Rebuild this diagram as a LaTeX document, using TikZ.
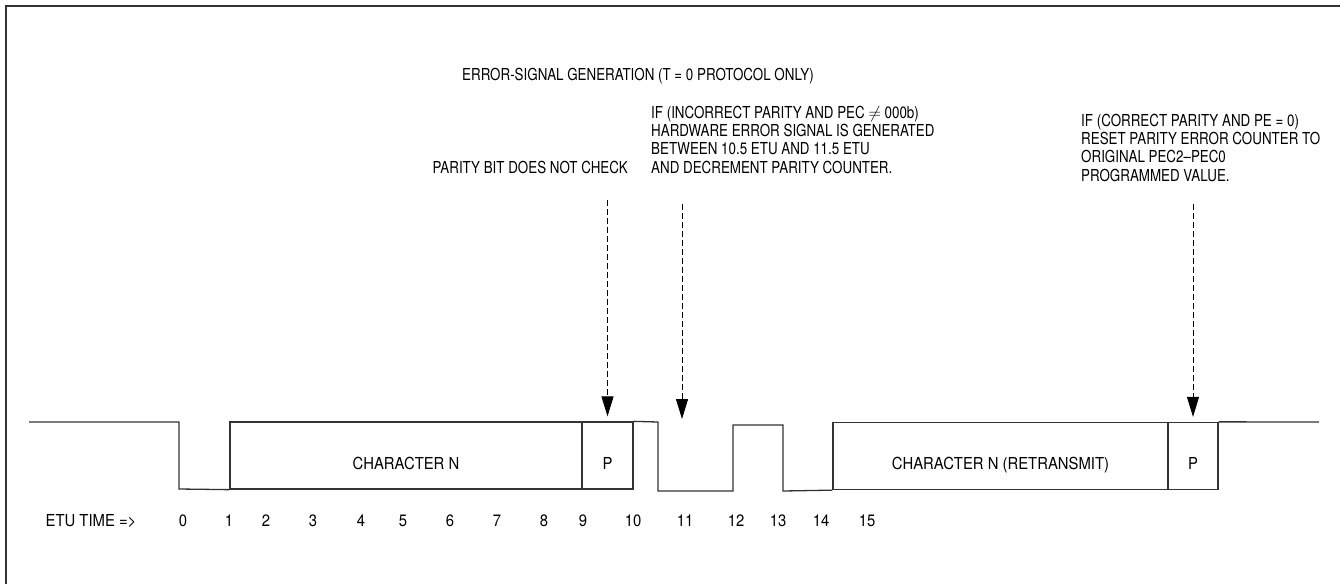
\documentclass[tikz,border=0pt]{standalone}
\usepackage{fontspec}
\setmainfont[FakeStretch=0.9]{TeX Gyre Heros}
\newfontfamily\notefam[FakeStretch=0.81]{TeX Gyre Heros}
\usetikzlibrary{arrows.meta}
\newcommand\lbfont{\fontsize{16.5}{18.2}\selectfont}
\newcommand\ntfont{\notefam\fontsize{16.5}{18.2}\selectfont}
\begin{document}
\begin{tikzpicture}[x=1pt,y=-1pt,line join=miter,
  wave/.style={line width=1.3pt, draw=black!80},
  bitbox/.style={draw=black!80, line width=1.3pt, inner sep=0pt, minimum height=67pt},
  lbl/.style={font=\lbfont, inner sep=0pt, anchor=base},
  note/.style={font=\ntfont, inner sep=0pt, align=left, anchor=base west},
  pointer/.style={dash pattern=on 6pt off 3pt, line width=1pt, -{Triangle[length=20pt,width=12pt]}}]
\useasboundingbox (0,0) rectangle (1340,584);
\fill[white] (0,0) rectangle (1340,584);
% frame
\draw[line width=2pt, black!80] (6,584) -- (6,6) -- (1340,6);
% boxes
\node[bitbox, minimum width=352pt] (c1) at (406,455.5) {};
\node[bitbox, minimum width=51pt] (p1) at (607.5,455.5) {};
\node[bitbox, minimum width=335pt] (c2) at (1000.5,456) {};
\node[bitbox, minimum width=50pt] (p2) at (1193,456) {};
\node[lbl] (c1t) at ([yshift=-13.5pt]c1.center) {CHARACTER N};
\node[lbl] (p1t) at ([yshift=-13.5pt]p1.center) {P};
\node[lbl] (c2t) at ([yshift=-13.5pt]c2.center) {CHARACTER N (RETRANSMIT)};
\node[lbl] (p2t) at ([yshift=-13.5pt]p2.center) {P};
% waveform
\draw[wave] (29,422) -- (179,422) -- (179,489) -- (c1.south west);
\draw[wave] (p1.north east) -- (658,422) -- (658,491) -- (733,491) -- (733,425) -- (783,425) -- (783,491) -- (c2.south west);
\draw[wave] (p2.north east) -- (1319,422);
% texts
\node[note] (t0) at (462,80) {ERROR-SIGNAL GENERATION (T = 0 PROTOCOL ONLY)};
\node[note, anchor=base east] (n1) at (628,173) {PARITY BIT DOES NOT CHECK};
\node[note] (n2) at (651,173) {IF (INCORRECT PARITY AND PEC $\neq$ 000b)\\HARDWARE ERROR SIGNAL IS GENERATED\\BETWEEN 10.5 ETU AND 11.5 ETU\\AND DECREMENT PARITY COUNTER.};
\node[note] (n3) at (1081,181) {IF (CORRECT PARITY AND PE = 0)\\RESET PARITY ERROR COUNTER TO\\ORIGINAL PEC2–PEC0\\PROGRAMMED VALUE.};
% pointers
\coordinate (a1) at (607.5,200);
\coordinate (a2) at (682,204);
\coordinate (e2) at (682,419);
\coordinate (a3) at (1193,204);
\draw[pointer, shorten >=5pt] (a1) -- (p1.north);
\draw[pointer] (a2) -- (e2);
\draw[pointer, shorten >=5pt] (a3) -- (p2.north);
% time axis
\node[lbl] (etu) at (91,526) {ETU TIME =>};
\foreach \x/\t in {183/0,229/1,266/2,313/3,361/4,403/5,450/6,497/7,544/8,583/9,633/10,685/11,736/12,778/13,821/14,867/15}
  \node[lbl] (tick\t) at (\x,526) {\t};
\end{tikzpicture}
\end{document}
